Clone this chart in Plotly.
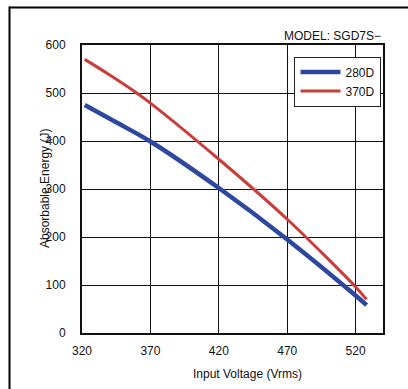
import plotly.graph_objects as go

# Data
v_280 = [322, 345, 370, 420, 470, 520, 528]
e_280 = [475, 439, 399, 302, 195, 78, 58]
v_370 = [322, 340, 360, 370, 420, 470, 520, 528]
e_370 = [570, 538, 500, 479, 362, 237, 96, 70]
x_ticks = [320, 370, 420, 470, 520]
y_ticks = [0, 100, 200, 300, 400, 500, 600]

FONT = "Liberation Sans, Arial, sans-serif"

fig = go.Figure()
fig.add_trace(go.Scatter(x=v_280, y=e_280, mode="lines", name="280D",
                         line=dict(color="#2e48a0", width=4.5, shape="spline", smoothing=0.8)))
fig.add_trace(go.Scatter(x=v_370, y=e_370, mode="lines", name="370D",
                         line=dict(color="#cc3d3a", width=3, shape="spline", smoothing=0.8)))

fig.update_layout(
    width=408, height=389,
    margin=dict(l=82, r=25, t=45, b=56),
    paper_bgcolor="white", plot_bgcolor="white",
    font=dict(family=FONT, size=12, color="#111"),
    showlegend=True,
    legend=dict(x=0.995, y=0.96, xanchor="right", yanchor="top",
                bordercolor="#222", borderwidth=1, bgcolor="white",
                font=dict(size=12), itemwidth=40, tracegroupgap=4),
    xaxis=dict(range=[320, 540], tickvals=x_ticks, showgrid=True,
               gridcolor="#111", gridwidth=1, zeroline=False,
               showline=True, linecolor="#111", linewidth=2, mirror=True,
               ticks="", ticklabelstandoff=6, automargin=False),
    yaxis=dict(range=[0, 600], tickvals=y_ticks, showgrid=True,
               gridcolor="#111", gridwidth=1, zeroline=False,
               showline=True, linecolor="#111", linewidth=2, mirror=True,
               ticks="", ticklabelstandoff=12, automargin=False),
)

# Outer frame (top and left edges visible), positioned in pixels from the plot edges
fig.add_shape(type="line", xref="paper", yref="paper",
              xsizemode="pixel", ysizemode="pixel", xanchor=0, yanchor=1,
              x0=-72.5, x1=330, y0=37.5, y1=37.5,
              line=dict(color="#000", width=2))
fig.add_shape(type="line", xref="paper", yref="paper",
              xsizemode="pixel", ysizemode="pixel", xanchor=0, yanchor=1,
              x0=-72.5, x1=-72.5, y0=-360, y1=38.5,
              line=dict(color="#000", width=2))

fig.add_annotation(text="MODEL: SGD7S\u2212", xref="paper", yref="paper",
                   x=1.0, y=1.0, xanchor="right", yanchor="bottom",
                   showarrow=False, font=dict(size=12, family=FONT))
fig.add_annotation(text="Absorbable Energy (J)", xref="paper", yref="paper",
                   x=(45 - 82) / 301, y=0.5, textangle=-90,
                   xanchor="center", yanchor="middle",
                   showarrow=False, font=dict(size=12, family=FONT))
fig.add_annotation(text="Input Voltage (Vrms)", xref="paper", yref="paper",
                   x=(247 - 82) / 301, y=(333 - 374) / 288,
                   xanchor="center", yanchor="middle",
                   showarrow=False, font=dict(size=12, family=FONT))

fig.write_html("out.html", config={"displayModeBar": False},
               post_script="document.body.style.margin='0';document.body.style.overflow='hidden';")
